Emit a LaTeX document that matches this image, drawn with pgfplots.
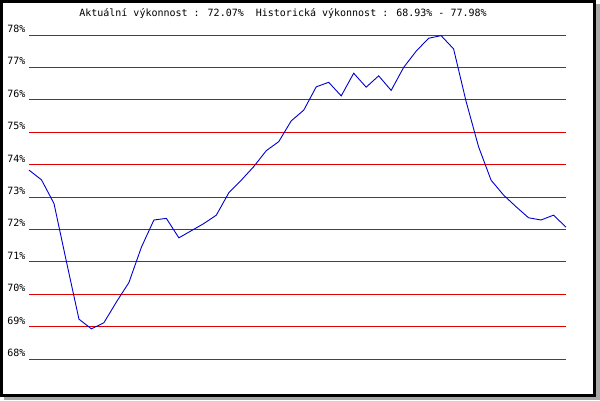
\documentclass[border=0pt]{standalone}
\usepackage{pgfplots}
\pgfplotsset{compat=1.18}
\usepackage{fontspec}
\setmainfont{DejaVu Sans Mono}
\definecolor{shadowgray}{RGB}{168,168,168}
\definecolor{gridred}{RGB}{225,0,0}
\definecolor{lineblue}{RGB}{0,0,205}
\begin{document}
\begin{tikzpicture}[x=1pt,y=1pt]
\path[use as bounding box] (0,0) rectangle (600,400);
\fill[shadowgray] (4,0) rectangle (600,396);
\filldraw[fill=white,draw=black,line width=3pt] (1.5,4.5) rectangle (594.5,398.5);
\node[anchor=base,font=\fontsize{10}{12}\selectfont,inner sep=0pt] at (283,383)
  {Aktuální výkonnost : 72.07\%\ \ Historická výkonnost : 68.93\% - 77.98\%};
\begin{axis}[
  at={(29pt,41pt)}, anchor=south west,
  scale only axis, width=537pt, height=324pt,
  xmin=0, xmax=43, ymin=68, ymax=78,
  axis line style={draw=none},
  xtick=\empty,
  ytick={68,69,70,71,72,73,74,75,76,77,78},
  yticklabels={68\%,69\%,70\%,71\%,72\%,73\%,74\%,75\%,76\%,77\%,78\%},
  major tick length=0pt,
  yticklabel style={anchor=base east, yshift=2.5pt, font=\fontsize{10}{12}\selectfont, inner sep=3.3pt},
  ymajorgrids,
  grid style={gridred, line width=1pt, solid},
  clip=false,
]
\addplot[lineblue, line width=0.9pt, mark=none] coordinates {
(0,73.83) (1,73.53) (2,72.80) (3,71.00) (4,69.23) (5,68.93) (6,69.12) (7,69.76)
(8,70.36) (9,71.45) (10,72.29) (11,72.34) (12,71.74) (13,71.96) (14,72.18) (15,72.44)
(16,73.13) (17,73.52) (18,73.94) (19,74.43) (20,74.71) (21,75.35) (22,75.68) (23,76.40)
(24,76.54) (25,76.12) (26,76.82) (27,76.39) (28,76.74) (29,76.29) (30,77.00) (31,77.50)
(32,77.90) (33,77.98) (34,77.57) (35,75.95) (36,74.55) (37,73.52) (38,73.06) (39,72.70)
(40,72.36) (41,72.29) (42,72.44) (43,72.07)
};
\end{axis}
\end{tikzpicture}
\end{document}
